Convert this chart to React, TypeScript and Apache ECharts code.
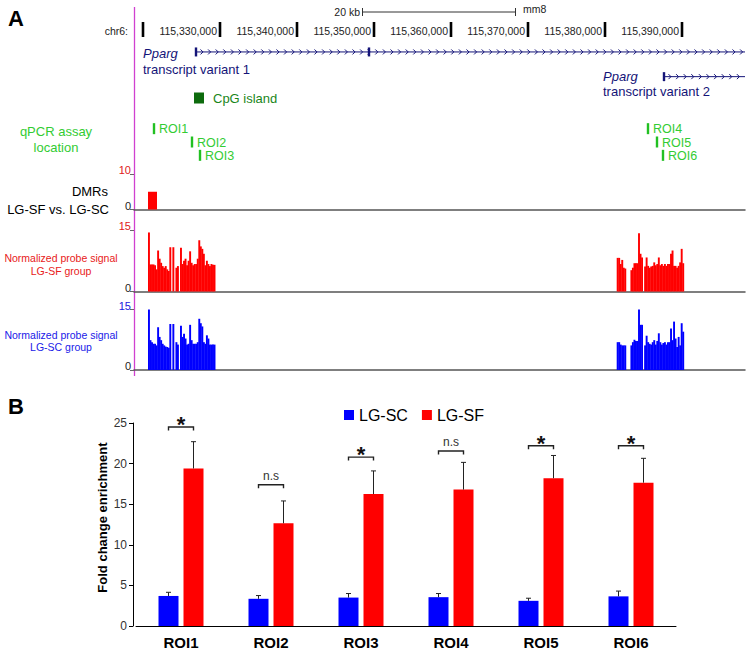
import React, { useEffect, useRef } from 'react';
import * as echarts from 'echarts';

// ---------------- Panel A data (genomic coordinates, chr6, mm8) ----------------
const GENOME_MIN = 115318831;
const GENOME_MAX = 115398182;
const RULER_TICKS = [115320000, 115330000, 115340000, 115350000, 115360000, 115370000, 115380000, 115390000];

const TRANSCRIPT_STARTS = [115326883, 115387662];
const TRANSCRIPT_ROWS = [0, 1];
const EXON_POS = [115326883, 115349351, 115387662];
const EXON_ROWS = [0, 0, 1];
const CPG_ISLAND = [115326623, 115327922];
const CPG_LABEL = 'CpG island';

const ROI_NAMES = ['ROI1', 'ROI2', 'ROI3', 'ROI4', 'ROI5', 'ROI6'];
const ROI_POS = [115321429, 115326364, 115327403, 115385584, 115386753, 115387532];
const ROI_ROWS = [0, 1, 2, 0, 1, 2];

const DMR_START = [115320649];
const DMR_END = [115321818];
const DMR_VALUE = [5];

const PROBE_STEP = 198;
const REGION_STARTS = [115320649, 115381519];
const SF_REGION1 = [14.4, 6.6, 6.6, 6.6, 6.4, 5.4, 10, 8, 7, 6.2, 5.8, 6.2, 5.4, 5, 10.8, 0, 10.8, 0, 5.8, 6.2, 0, 10.7, 6.7, 7.5, 8, 6.4, 7.5, 9.8, 7, 6.4, 6.7, 6.7, 8, 12.5, 11, 10.4, 9.2, 6.4, 7.5, 6.7, 6.2, 6.7, 6.5, 6.5];
const SC_REGION1 = [15, 7.4, 6.9, 6.5, 6.5, 6.1, 10.6, 8.2, 7.4, 6.5, 6.1, 5.8, 5.7, 5.5, 11.4, 0, 11.4, 0, 6.9, 6.3, 0, 11, 8.2, 9, 7.8, 6.3, 6.5, 11.2, 7.4, 6.5, 6.5, 6.5, 6.9, 12.7, 11.6, 10.8, 6.9, 6.5, 8.6, 7.8, 6.3, 6.3, 6.3, 6.3];
const SF_REGION2 = [8.2, 8.2, 6.7, 7.7, 5.8, 5.6, 0, 0, 0, 5.2, 5.8, 6.9, 6.9, 6.9, 14.2, 9.2, 8.3, 0, 6.1, 8.3, 6.25, 5.8, 6.1, 6.25, 7.1, 6.4, 6.7, 8.3, 6.4, 6.7, 6.25, 6.7, 6.25, 6.7, 6.7, 9.2, 10, 6.25, 6.25, 5.8, 6.25, 7.1, 10.4, 6.9];
const SC_REGION2 = [6.9, 6.9, 6.3, 6.1, 6.1, 6.1, 0, 0, 0, 6.1, 6.9, 7.5, 7.2, 7.2, 15, 11.2, 11.2, 0, 6.1, 8.5, 6.9, 6.5, 6.3, 6.9, 7.4, 6.3, 7.2, 9.1, 6.9, 6.3, 6.7, 6.9, 6.3, 6.9, 6.9, 10.3, 7.4, 12, 7.8, 5.7, 8.2, 6.1, 11.6, 9.5];

// ---------------- Panel B data ----------------
const ROIS = ['ROI1', 'ROI2', 'ROI3', 'ROI4', 'ROI5', 'ROI6'];
const SC_MEAN = [3.7, 3.35, 3.5, 3.55, 3.1, 3.65];
const SC_ERR = [0.45, 0.4, 0.5, 0.45, 0.32, 0.65];
const SF_MEAN = [19.4, 12.65, 16.25, 16.8, 18.2, 17.65];
const SF_ERR = [3.3, 2.75, 2.85, 3.35, 2.8, 3.0];
const SIG_LABEL = ['*', 'n.s', '*', 'n.s', '*', '*'];
const SIG_LEVEL = [24.5, 17.4, 20.8, 21.55, 22.2, 22.2];

// ---------------- styling ----------------
const FONT = 'Liberation Sans, Arial, Helvetica, sans-serif';
const NAVY = '#141478';
const GREEN = '#33cc33';
const RED = '#ff0000';
const BLUE = '#0000ff';
const BAR_WIDTH = 20;
const BAR_GAP = 0.25;
const TRACK_LEFT = 134;
const TRACK_WIDTH = 611;

const probeData = (r1: number[], r2: number[]) => {
  const out: number[][] = [];
  [r1, r2].forEach((arr, k) => arr.forEach((v, i) => out.push([REGION_STARTS[k] + i * PROBE_STEP, v])));
  return out;
};

const fmtPos = (v: number) => String(v).replace(/\B(?=(\d{3})+(?!\d))/g, ',');

const txtStyle = (text: string, o: any = {}) => ({
  text,
  fill: o.fill || '#000',
  fontSize: o.size || 13,
  fontFamily: FONT,
  fontWeight: o.weight || 'normal',
  fontStyle: o.style || 'normal',
  textAlign: o.align || 'left',
  align: o.align || 'left',
  textVerticalAlign: 'middle',
  verticalAlign: 'middle',
});

const txt = (text: string, x: number, y: number, o: any = {}) => ({
  type: 'text',
  x,
  y,
  silent: true,
  rotation: o.rotation || 0,
  style: txtStyle(text, o),
});

const hiddenGenomeAxis = (gridIndex: number, extra: any = {}) => ({
  type: 'value',
  gridIndex,
  min: GENOME_MIN,
  max: GENOME_MAX,
  axisLine: { show: false },
  axisTick: { show: false },
  axisLabel: { show: false },
  splitLine: { show: false },
  ...extra,
});

const trackYAxis = (gridIndex: number, max: number, topColor: string) => ({
  type: 'value',
  gridIndex,
  min: 0,
  max,
  interval: max,
  axisLine: { show: false },
  axisTick: { show: true, length: 4, lineStyle: { color: '#666', width: 1 } },
  axisLabel: {
    fontSize: 11,
    fontFamily: FONT,
    margin: 3,
    verticalAlign: 'bottom',
    lineHeight: 8,
    color: (v: any) => (Number(v) === max ? topColor : '#222'),
  },
  splitLine: { show: false },
});

const makeProbeRender = (color: string) => (params: any, api: any) => {
  const pos = api.value(0);
  const v = api.value(1);
  if (!v) return { type: 'group', children: [] };
  const p0 = api.coord([pos, 0]);
  const p1 = api.coord([pos + PROBE_STEP, v]);
  return {
    type: 'rect',
    shape: { x: p0[0], y: p1[1], width: p1[0] - p0[0] + 0.4, height: p0[1] - p1[1] },
    style: { fill: color },
  };
};

const makeErrRender = (means: number[], errs: number[], sign: number) => (params: any, api: any) => {
  const i = params.dataIndex;
  const base = api.coord([i, means[i]]);
  const top = api.coord([i, means[i] + errs[i]]);
  const x = base[0] + (sign * BAR_WIDTH * (1 + BAR_GAP)) / 2;
  return {
    type: 'group',
    children: [
      { type: 'line', shape: { x1: x, y1: base[1], x2: x, y2: top[1] }, style: { stroke: '#222', lineWidth: 1 } },
      { type: 'line', shape: { x1: x - 2.5, y1: top[1], x2: x + 2.5, y2: top[1] }, style: { stroke: '#222', lineWidth: 1 } },
    ],
  };
};

export default function App() {
  const ref = useRef<HTMLDivElement>(null);

  useEffect(() => {
    if (!ref.current) return;
    const chart = echarts.init(ref.current, null, { renderer: 'svg' });
    const half = (BAR_WIDTH * (1 + BAR_GAP)) / 2;

    const option: any = {
      animation: false,
      backgroundColor: '#fff',
      textStyle: { fontFamily: FONT },
      legend: {
        data: ['LG-SC', 'LG-SF'],
        left: 339,
        top: 402,
        icon: 'rect',
        itemWidth: 10,
        itemHeight: 10,
        itemGap: 14,
        textStyle: { fontSize: 16, color: '#000', fontFamily: FONT },
      },
      grid: [
        { left: TRACK_LEFT, width: TRACK_WIDTH, top: 22, height: 15 },
        { left: TRACK_LEFT, width: TRACK_WIDTH, top: 39.6, height: 49.4 },
        { left: TRACK_LEFT, width: TRACK_WIDTH, top: 92.5, height: 11 },
        { left: TRACK_LEFT, width: TRACK_WIDTH, top: 122, height: 40 },
        { left: TRACK_LEFT, width: TRACK_WIDTH, top: 174, height: 35.5 },
        { left: TRACK_LEFT, width: TRACK_WIDTH, top: 230, height: 61.5 },
        { left: TRACK_LEFT, width: TRACK_WIDTH, top: 309.5, height: 60.5 },
        { left: 136, width: 540, top: 423, height: 203 },
      ],
      xAxis: [
        hiddenGenomeAxis(0),
        hiddenGenomeAxis(1),
        hiddenGenomeAxis(2),
        hiddenGenomeAxis(3),
        hiddenGenomeAxis(4, { axisLine: { show: true, onZero: false, lineStyle: { color: '#555', width: 1.5 } } }),
        hiddenGenomeAxis(5, { axisLine: { show: true, onZero: false, lineStyle: { color: '#555', width: 1.5 } } }),
        hiddenGenomeAxis(6, { axisLine: { show: true, onZero: false, lineStyle: { color: '#555', width: 1.5 } } }),
        {
          type: 'category',
          gridIndex: 7,
          data: ROIS,
          axisLine: { show: true, lineStyle: { color: '#000', width: 1 } },
          axisTick: { show: false },
          axisLabel: { fontSize: 15, fontWeight: 'bold', color: '#000', margin: 9, fontFamily: FONT },
        },
      ],
      yAxis: [
        { type: 'value', gridIndex: 0, min: 0, max: 1, show: false },
        { type: 'category', gridIndex: 1, data: ['tv1', 'tv2'], inverse: true, show: false },
        { type: 'category', gridIndex: 2, data: ['cpg'], show: false },
        { type: 'category', gridIndex: 3, data: ['r1', 'r2', 'r3'], inverse: true, show: false },
        trackYAxis(4, 10, '#e02020'),
        trackYAxis(5, 15, '#e02020'),
        trackYAxis(6, 15, '#2020e0'),
        {
          type: 'value',
          gridIndex: 7,
          min: 0,
          max: 25,
          interval: 5,
          offset: 3,
          axisLine: { show: true, lineStyle: { color: '#000', width: 1 } },
          axisTick: { show: true, length: 4, lineStyle: { color: '#000' } },
          axisLabel: { fontSize: 12, color: '#333', margin: 6, fontFamily: FONT },
          splitLine: { show: false },
        },
      ],
      series: [
        {
          name: 'ruler',
          type: 'custom',
          xAxisIndex: 0,
          yAxisIndex: 0,
          data: RULER_TICKS.map((t) => [t, 1]),
          renderItem: (params: any, api: any) => {
            const v = api.value(0);
            const p = api.coord([v, 1]);
            const top = params.coordSys.y;
            const h = params.coordSys.height;
            const children: any[] = [
              { type: 'rect', shape: { x: p[0] - 1.3, y: top, width: 2.6, height: h }, style: { fill: '#000' } },
            ];
            if (params.dataIndex > 0) {
              children.push({ type: 'text', x: p[0] - 3, y: top + 9, style: txtStyle(fmtPos(v), { size: 10.5, align: 'right', fill: '#222' }) });
            }
            return { type: 'group', children };
          },
        },
        {
          name: 'transcripts',
          type: 'custom',
          xAxisIndex: 1,
          yAxisIndex: 1,
          data: TRANSCRIPT_STARTS.map((s, i) => [s, TRANSCRIPT_ROWS[i]]),
          renderItem: (params: any, api: any) => {
            const p = api.coord([api.value(0), api.value(1)]);
            const endX = params.coordSys.x + params.coordSys.width;
            const y = p[1];
            const children: any[] = [
              { type: 'line', shape: { x1: p[0], y1: y, x2: endX, y2: y }, style: { stroke: NAVY, lineWidth: 1 } },
            ];
            for (let x = p[0] + 6; x < endX - 1; x += 7.6) {
              children.push({
                type: 'polyline',
                shape: { points: [[x - 1.5, y - 2.5], [x + 1, y], [x - 1.5, y + 2.5]] },
                style: { stroke: NAVY, fill: null, lineWidth: 1 },
              });
            }
            return { type: 'group', children };
          },
        },
        {
          name: 'exons',
          type: 'custom',
          xAxisIndex: 1,
          yAxisIndex: 1,
          data: EXON_POS.map((s, i) => [s, EXON_ROWS[i]]),
          renderItem: (params: any, api: any) => {
            const p = api.coord([api.value(0), api.value(1)]);
            return { type: 'rect', shape: { x: p[0] - 1.2, y: p[1] - 4.5, width: 2.4, height: 9 }, style: { fill: NAVY } };
          },
        },
        {
          name: 'cpg',
          type: 'custom',
          xAxisIndex: 2,
          yAxisIndex: 2,
          encode: { x: [0, 1], y: 2 },
          data: [[CPG_ISLAND[0], CPG_ISLAND[1], 0]],
          renderItem: (params: any, api: any) => {
            const a = api.coord([api.value(0), api.value(2)]);
            const b = api.coord([api.value(1), api.value(2)]);
            return {
              type: 'group',
              children: [
                { type: 'rect', shape: { x: a[0], y: a[1] - 5.5, width: b[0] - a[0], height: 11 }, style: { fill: '#0d6b0d' } },
                { type: 'text', x: b[0] + 9, y: a[1], style: txtStyle(CPG_LABEL, { fill: '#1a861a' }) },
              ],
            };
          },
        },
        {
          name: 'roi',
          type: 'custom',
          xAxisIndex: 3,
          yAxisIndex: 3,
          data: ROI_POS.map((p, i) => [p, ROI_ROWS[i]]),
          renderItem: (params: any, api: any) => {
            const p = api.coord([api.value(0), api.value(1)]);
            return {
              type: 'group',
              children: [
                { type: 'rect', shape: { x: p[0] - 1.2, y: p[1] - 5.5, width: 2.4, height: 11 }, style: { fill: '#22c022' } },
                { type: 'text', x: p[0] + 5, y: p[1] + 0.5, style: txtStyle(ROI_NAMES[params.dataIndex], { fill: GREEN, size: 12.5 }) },
              ],
            };
          },
        },
        {
          name: 'dmr',
          type: 'custom',
          xAxisIndex: 4,
          yAxisIndex: 4,
          encode: { x: [0, 1], y: 2 },
          data: DMR_START.map((s, i) => [s, DMR_END[i], DMR_VALUE[i]]),
          renderItem: (params: any, api: any) => {
            const a = api.coord([api.value(0), 0]);
            const b = api.coord([api.value(1), api.value(2)]);
            return { type: 'rect', shape: { x: a[0], y: b[1], width: b[0] - a[0], height: a[1] - b[1] }, style: { fill: RED } };
          },
        },
        {
          name: 'sf-probes',
          type: 'custom',
          xAxisIndex: 5,
          yAxisIndex: 5,
          data: probeData(SF_REGION1, SF_REGION2),
          renderItem: makeProbeRender(RED),
        },
        {
          name: 'sc-probes',
          type: 'custom',
          xAxisIndex: 6,
          yAxisIndex: 6,
          data: probeData(SC_REGION1, SC_REGION2),
          renderItem: makeProbeRender(BLUE),
        },
        {
          name: 'LG-SC',
          type: 'bar',
          xAxisIndex: 7,
          yAxisIndex: 7,
          data: SC_MEAN,
          barWidth: BAR_WIDTH,
          barGap: `${BAR_GAP * 100}%`,
          itemStyle: { color: BLUE },
        },
        {
          name: 'LG-SF',
          type: 'bar',
          xAxisIndex: 7,
          yAxisIndex: 7,
          data: SF_MEAN,
          barWidth: BAR_WIDTH,
          barGap: `${BAR_GAP * 100}%`,
          itemStyle: { color: RED },
        },
        {
          name: 'sc-err',
          type: 'custom',
          xAxisIndex: 7,
          yAxisIndex: 7,
          z: 5,
          data: SC_MEAN.map((m, i) => [i, m + SC_ERR[i]]),
          renderItem: makeErrRender(SC_MEAN, SC_ERR, -1),
        },
        {
          name: 'sf-err',
          type: 'custom',
          xAxisIndex: 7,
          yAxisIndex: 7,
          z: 5,
          data: SF_MEAN.map((m, i) => [i, m + SF_ERR[i]]),
          renderItem: makeErrRender(SF_MEAN, SF_ERR, 1),
        },
        {
          name: 'significance',
          type: 'custom',
          xAxisIndex: 7,
          yAxisIndex: 7,
          z: 5,
          data: SIG_LEVEL.map((l, i) => [i, l]),
          renderItem: (params: any, api: any) => {
            const i = params.dataIndex;
            const p = api.coord([i, SIG_LEVEL[i]]);
            const star = SIG_LABEL[i] === '*';
            return {
              type: 'group',
              children: [
                {
                  type: 'polyline',
                  shape: { points: [[p[0] - half, p[1] + 3.5], [p[0] - half, p[1]], [p[0] + half, p[1]], [p[0] + half, p[1] + 3.5]] },
                  style: { stroke: '#222', fill: null, lineWidth: 1.4 },
                },
                {
                  type: 'text',
                  x: p[0],
                  y: star ? p[1] - 2.5 : p[1] - 9,
                  style: txtStyle(SIG_LABEL[i], {
                    fill: star ? '#111' : '#333',
                    size: star ? 22 : 12,
                    weight: star ? 'bold' : 'normal',
                    align: 'center',
                  }),
                },
              ],
            };
          },
        },
      ],
      graphic: {
        elements: [
          txt('A', 8, 18, { size: 22, weight: 'bold' }),
          txt('B', 8, 406, { size: 22, weight: 'bold' }),
          txt('chr6:', 128, 31, { size: 10.5, align: 'right', fill: '#222' }),
          txt('20 kb', 360, 12, { size: 10.5, align: 'right', fill: '#222' }),
          { type: 'line', silent: true, shape: { x1: 362, y1: 12, x2: 515, y2: 12 }, style: { stroke: '#333', lineWidth: 1 } },
          { type: 'line', silent: true, shape: { x1: 362.5, y1: 8, x2: 362.5, y2: 16 }, style: { stroke: '#333', lineWidth: 1 } },
          { type: 'line', silent: true, shape: { x1: 515.5, y1: 8, x2: 515.5, y2: 16 }, style: { stroke: '#333', lineWidth: 1 } },
          txt('mm8', 523, 9, { size: 10.5, fill: '#222' }),
          { type: 'line', silent: true, shape: { x1: 134.5, y1: 7, x2: 134.5, y2: 376 }, style: { stroke: '#d040d0', lineWidth: 1.3 } },
          txt('Pparg', 143, 53, { style: 'italic', fill: NAVY }),
          txt('transcript variant 1', 143, 69.5, { fill: NAVY }),
          txt('Pparg', 603, 76.5, { style: 'italic', fill: NAVY }),
          txt('transcript variant 2', 603, 91, { fill: NAVY }),
          txt('qPCR assay', 56, 131, { align: 'center', fill: GREEN }),
          txt('location', 56, 147, { align: 'center', fill: GREEN }),
          txt('DMRs', 108, 191, { align: 'right' }),
          txt('LG-SF vs. LG-SC', 109, 209, { align: 'right' }),
          txt('Normalized probe signal', 61, 258, { align: 'center', fill: '#e82020', size: 10.5 }),
          txt('LG-SF group', 61, 271, { align: 'center', fill: '#e82020', size: 10.5 }),
          txt('Normalized probe signal', 61, 335, { align: 'center', fill: '#2020e8', size: 10.5 }),
          txt('LG-SC group', 61, 347, { align: 'center', fill: '#2020e8', size: 10.5 }),
          txt('Fold change enrichment', 102, 517.5, { align: 'center', size: 13, weight: 'bold', rotation: Math.PI / 2 }),
        ],
      },
    };

    chart.setOption(option);
    return () => chart.dispose();
  }, []);

  return (
    <div
      ref={ref}
      style={{ position: 'absolute', left: 0, top: 0, width: 750, height: 651, background: '#fff' }}
    />
  );
}
